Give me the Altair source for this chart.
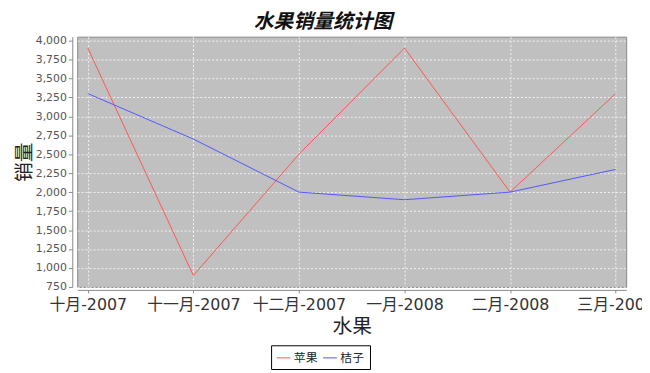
import altair as alt
import pandas as pd

months = ["十月-2007", "十一月-2007", "十二月-2007", "一月-2008", "二月-2008", "三月-2008"]
apple = [3900, 900, 2500, 3900, 2000, 3300]
orange = [3300, 2700, 2000, 1900, 2000, 2300]
series = ["苹果", "桔子"]
colors = ["#ff5555", "#5555ff"]
y_ticks = list(range(750, 4001, 250))

rows = []
for m, a, o in zip(months, apple, orange):
    rows.append({"month": m, "series": series[0], "value": a})
    rows.append({"month": m, "series": series[1], "value": o})
df = pd.DataFrame(rows)

font = "Noto Sans CJK SC"
label_font = "DejaVu Sans, Noto Sans CJK SC"

chart = alt.Chart(df).mark_line(strokeWidth=1).encode(
    x=alt.X(
        "month:N",
        sort=months,
        scale=alt.Scale(type="point", padding=0.1),
        axis=alt.Axis(
            title="水果", labelAngle=0, labelFont=label_font, labelFontSize=16,
            labelColor="#333333", labelPadding=4, tickSize=3, tickColor="#888888",
            domainColor="#888888", offset=3, grid=True,
            titleFont=font, titleFontSize=20, titleFontWeight="normal",
            titleColor="#222222", titlePadding=4,
        ),
    ),
    y=alt.Y(
        "value:Q",
        scale=alt.Scale(domain=[750, 4050], nice=False, zero=False),
        axis=alt.Axis(
            values=y_ticks, format=",.0f", title="销量",
            labelFont="DejaVu Sans", labelFontSize=11, labelColor="#555555",
            labelPadding=2, tickSize=4, tickColor="#888888",
            domainColor="#888888", offset=5, grid=True,
            titleFont=font, titleFontSize=20, titleFontWeight="normal",
            titleColor="#222222", titlePadding=1,
        ),
    ),
    color=alt.Color(
        "series:N",
        sort=series,
        scale=alt.Scale(domain=series, range=colors),
        legend=alt.Legend(
            title=None, orient="none", legendX=196, legendY=312,
            direction="horizontal", symbolType="stroke", symbolSize=196,
            symbolStrokeWidth=1, labelFont=font, labelFontSize=12,
            labelColor="#222222", strokeColor="#000000", fillColor="#ffffff",
            padding=5, columnPadding=2, labelOffset=3,
        ),
    ),
).properties(
    width=555,
    height=253,
    autosize=alt.AutoSizeParams(type="none"),
    padding={"left": 70, "top": 27, "right": 16, "bottom": 82},
    title=alt.TitleParams(
        text="水果销量统计图", font=font, fontSize=20, fontStyle="italic",
        fontWeight="bold", color="#111111", anchor="middle", dx=-29, offset=3,
    ),
).configure_view(
    fill="#c0c0c0", stroke="#888888"
).configure_axis(
    gridColor="#ffffff", gridDash=[2, 2], gridOpacity=0.8
)

chart.save("out.html", embed_options={"renderer": "svg", "actions": False})
